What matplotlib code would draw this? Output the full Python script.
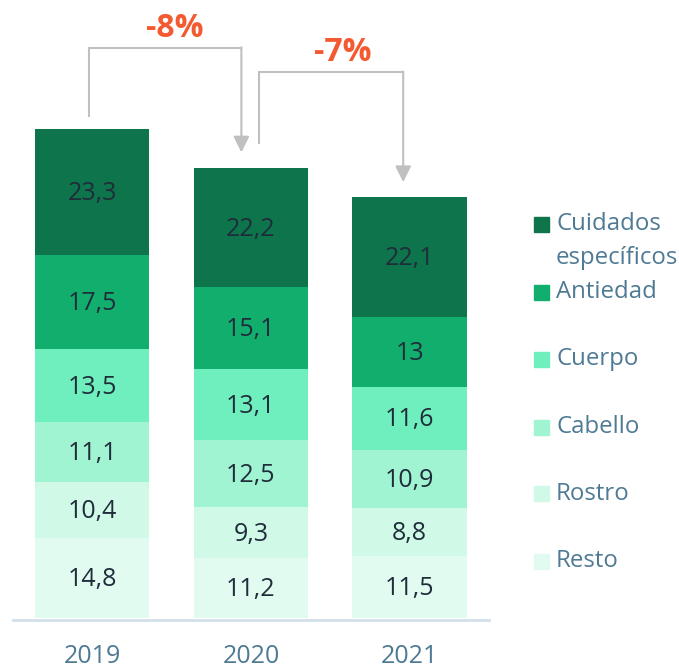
import matplotlib.pyplot as plt
from matplotlib.patches import Rectangle

plt.rcParams['font.family'] = ['Open Sans', 'DejaVu Sans']

years = ['2019', '2020', '2021']
categories = ['Resto', 'Rostro', 'Cabello', 'Cuerpo', 'Antiedad', 'Cuidados\nespecíficos']
resto = [14.8, 11.2, 11.5]
rostro = [10.4, 9.3, 8.8]
cabello = [11.1, 12.5, 10.9]
cuerpo = [13.5, 13.1, 11.6]
antiedad = [17.5, 15.1, 13.0]
cuidados = [23.3, 22.2, 22.1]
changes = ['-8%', '-7%']

series = [resto, rostro, cabello, cuerpo, antiedad, cuidados]
colors = ['#e1fbf0', '#d0f9e8', '#a0f4d2', '#70efbe', '#12ae6e', '#0e744c']

fig = plt.figure(figsize=(6.79, 6.69), dpi=100)
ax = fig.add_axes([0.019, 0.076, 0.701, 0.924])

x = list(range(len(years)))
bottom = [0.0] * len(years)
for vals, col in zip(series, colors):
    ax.bar(x, vals, width=0.72, bottom=bottom, color=col, linewidth=0)
    for i, v in enumerate(vals):
        lbl = ('%g' % v).replace('.', ',')
        ax.text(i, bottom[i] + v / 2 - 0.3, lbl, ha='center', va='center',
                fontsize=18, color='#1f2d3a')
    bottom = [b + v for b, v in zip(bottom, vals)]

ax.set_xlim(-0.5, 2.5)
ax.set_ylim(0, 114.4)
for s in ['top', 'right', 'left']:
    ax.spines[s].set_visible(False)
ax.spines['bottom'].set_color('#d3e0ea')
ax.spines['bottom'].set_linewidth(2)
ax.spines['bottom'].set_position(('data', -0.4))
ax.set_yticks([])
ax.set_xticks(x)
ax.set_xticklabels(years, fontsize=18, color='#4f7a94')
ax.tick_params(axis='x', length=0, pad=17)

# change brackets
gray = '#c0c0c0'
x_start = [-0.02, 1.05]
x_end = [0.94, 1.96]
y_start = [93.0, 88.0]
y_top = [105.5, 101.0]
x_text = [0.52, 1.58]
for i, chg in enumerate(changes):
    t1 = sum(s[i + 1] for s in series)
    ax.plot([x_start[i], x_start[i], x_end[i]], [y_start[i], y_top[i], y_top[i]],
            color=gray, lw=1.5, solid_joinstyle='miter')
    ax.annotate('', xy=(x_end[i], t1 + 2.8), xytext=(x_end[i], y_top[i] + 0.15),
                arrowprops=dict(arrowstyle='-|>', color=gray, lw=1.5,
                                mutation_scale=24, shrinkA=0, shrinkB=0))
    ax.text(x_text[i], y_top[i] + 3.6, chg, ha='center', va='center',
            fontsize=23, fontweight='bold', color='#f45a31')

# legend
leg_y = [224, 292, 359, 427, 494, 561]
for cat, col, py in zip(categories[::-1], colors[::-1], leg_y):
    fy = 1 - py / 669
    fig.patches.append(Rectangle((534 / 679, fy - 7.5 / 669), 15 / 679, 15 / 669,
                                 transform=fig.transFigure, color=col))
    lines = cat.split('\n')
    for k, line in enumerate(lines):
        fig.text(556 / 679, fy - k * 34 / 669, line, ha='left', va='center',
                 fontsize=17.3, color='#4f7a94')

fig.savefig('out.png', dpi=100)
